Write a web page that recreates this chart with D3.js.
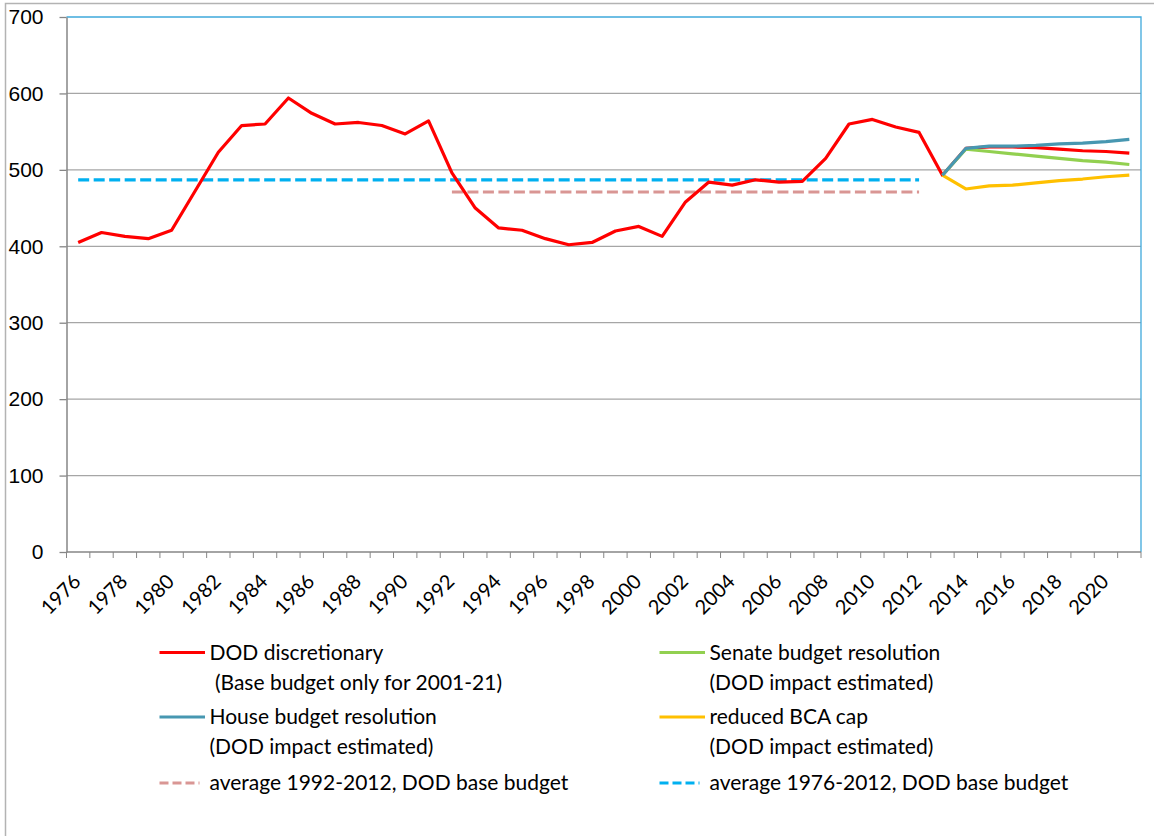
<!DOCTYPE html>
<html>
<head>
<meta charset="utf-8">
<script src="https://cdn.jsdelivr.net/npm/d3@7"></script>
<style>
  body { margin: 0; background: #fff; }
  svg { font-family: Lato, "Open Sans", sans-serif; }
  .grid line { stroke: #a6a6a6; stroke-width: 1.3; }
  .axis path, .axis line { stroke: #868686; }
  .axis text { fill: #000; }
</style>
</head>
<body>
<div id="chart"></div>
<script>
// setup canvas parameter
var width = 1154, height = 836;
var plot = { left: 66.5, right: 1141, top: 17, bottom: 552 };

// data
var years = d3.range(1976, 2022);
var dodDiscretionary = [405, 418, 413, 410, 421, 472, 523, 558, 560, 594,
    574, 560, 562, 558, 547, 564, 496, 450, 424, 421,
    410, 402, 405, 420, 426, 413, 458, 484, 480, 487,
    484, 485, 515, 560, 566, 556, 549, 493, 528, 530,
    530, 529, 527, 525, 524, 522];
var projYears = [2013, 2014, 2015, 2016, 2017, 2018, 2019, 2020, 2021];
var senate = [493, 527, 524, 521, 518, 515, 512, 510, 507];
var house = [493, 528, 531, 531, 532, 534, 535, 537, 540];
var reducedBCA = [493, 475, 479, 480, 483, 486, 488, 491, 493];
var avg1992 = { from: 1992, to: 2012, value: 471 };
var avg1976 = { from: 1976, to: 2012, value: 487 };
var yTicks = [0, 100, 200, 300, 400, 500, 600, 700];
var xLabelYears = years.filter(function(d){ return d % 2 === 0; });

var legendItems = [
    { name: 'DOD discretionary', sub: ' (Base budget only for 2001-21)', color: '#ff0000', dash: null },
    { name: 'Senate budget resolution', sub: '(DOD impact estimated)', color: '#92d050', dash: null },
    { name: 'House budget resolution', sub: '(DOD impact estimated)', color: '#4797b1', dash: null },
    { name: 'reduced BCA cap', sub: '(DOD impact estimated)', color: '#ffc000', dash: null },
    { name: 'average 1992-2012, DOD base budget', sub: null, color: '#d99694', dash: '9,4' },
    { name: 'average 1976-2012, DOD base budget', sub: null, color: '#00b0f0', dash: '9,4' }
];

var svg = d3.select('#chart')
    .append('svg')
    .attr('width', width)
    .attr('height', height);

// outer chart frame
svg.append('path')
    .attr('d', 'M5.5,' + height + 'V3.5H' + width)
    .attr('fill', 'none')
    .attr('stroke', '#b3b3b3')
    .attr('stroke-width', 1.5);

// scales
var xScale = d3.scaleBand()
    .domain(years)
    .range([plot.left, plot.right])
    .padding(0);
var half = xScale.bandwidth() / 2;
function cx(d){ return xScale(d) + half; }

var yScale = d3.scaleLinear()
    .domain([0, 700])
    .range([plot.bottom, plot.top]);

// gridlines
svg.append('g')
    .attr('class', 'grid')
    .selectAll('line')
    .data(yTicks.filter(function(d){ return d > 0 && d < 700; }))
    .enter()
    .append('line')
    .attr('x1', plot.left)
    .attr('x2', plot.right)
    .attr('y1', function(d){ return yScale(d); })
    .attr('y2', function(d){ return yScale(d); });

// plot area border (blue top and right)
svg.append('path')
    .attr('d', 'M' + plot.left + ',' + yScale(700) + 'H' + plot.right + 'V' + plot.bottom)
    .attr('fill', 'none')
    .attr('stroke', '#3fa9dc')
    .attr('stroke-width', 1.3);

// y axis
svg.append('g')
    .attr('class', 'axis')
    .attr('transform', 'translate(' + plot.left + ',0)')
    .call(d3.axisLeft(yScale).tickValues(yTicks).tickSize(7).tickSizeOuter(0))
    .call(function(g){
        g.selectAll('path').attr('stroke-width', 1.5);
        g.selectAll('line').attr('stroke-width', 1.3);
        g.selectAll('text').attr('x', -23).attr('font-size', '21px');
    });

// x axis: ticks on category boundaries, labels every other year
var xAxisG = svg.append('g')
    .attr('class', 'axis')
    .attr('transform', 'translate(0,' + plot.bottom + ')');

xAxisG.append('line')
    .attr('x1', plot.left)
    .attr('x2', plot.right)
    .attr('stroke-width', 1.5);

xAxisG.selectAll('.tk')
    .data(years.concat([2022]))
    .enter()
    .append('line')
    .attr('class', 'tk')
    .attr('x1', function(d){ return d === 2022 ? plot.right : xScale(d); })
    .attr('x2', function(d){ return d === 2022 ? plot.right : xScale(d); })
    .attr('y1', 0)
    .attr('y2', 6);

xAxisG.selectAll('.lbl')
    .data(xLabelYears)
    .enter()
    .append('text')
    .attr('class', 'lbl')
    .attr('font-size', '20px')
    .attr('text-anchor', 'end')
    .attr('transform', function(d){
        return 'translate(' + (cx(d) - 6) + ',21) rotate(-45)';
    })
    .attr('dy', '0.7em')
    .text(function(d){ return d; });

// lines
var line = d3.line()
    .x(function(d){ return cx(d[0]); })
    .y(function(d){ return yScale(d[1]); });

function drawAvg(a, color){
    svg.append('path')
        .datum([[a.from, a.value], [a.to, a.value]])
        .attr('d', line)
        .attr('fill', 'none')
        .attr('stroke', color)
        .attr('stroke-width', 3.2)
        .attr('stroke-dasharray', '11,4.5');
}
drawAvg(avg1976, '#00b0f0');
drawAvg(avg1992, '#d99694');

function drawSeries(xs, vs, color){
    svg.append('path')
        .datum(xs.map(function(x, i){ return [x, vs[i]]; }))
        .attr('d', line)
        .attr('fill', 'none')
        .attr('stroke', color)
        .attr('stroke-width', 3.2)
        .attr('stroke-linejoin', 'round');
}
drawSeries(years, dodDiscretionary, '#ff0000');
drawSeries(projYears, reducedBCA, '#ffc000');
drawSeries(projYears, senate, '#92d050');
drawSeries(projYears, house, '#4797b1');

// legend
var legendRows = [652.5, 717, 783];
var legendCols = [159.5, 659.5];
var legend = svg.append('g').attr('font-size', '21px');

legendItems.forEach(function(d, i){
    var lx = legendCols[i % 2], ly = legendRows[Math.floor(i / 2)];
    legend.append('line')
        .attr('x1', lx).attr('x2', lx + (d.dash ? 40 : 45.5))
        .attr('y1', ly).attr('y2', ly)
        .attr('stroke', d.color)
        .attr('stroke-width', 3.2)
        .attr('stroke-dasharray', d.dash);
    legend.append('text')
        .attr('x', lx + 50)
        .attr('y', ly)
        .attr('dy', '0.35em')
        .text(d.name);
    if (d.sub) {
        legend.append('text')
            .attr('x', lx + 50)
            .attr('y', ly + 30)
            .attr('dy', '0.35em')
            .style('white-space', 'pre')
            .text(d.sub);
    }
});
</script>
</body>
</html>
